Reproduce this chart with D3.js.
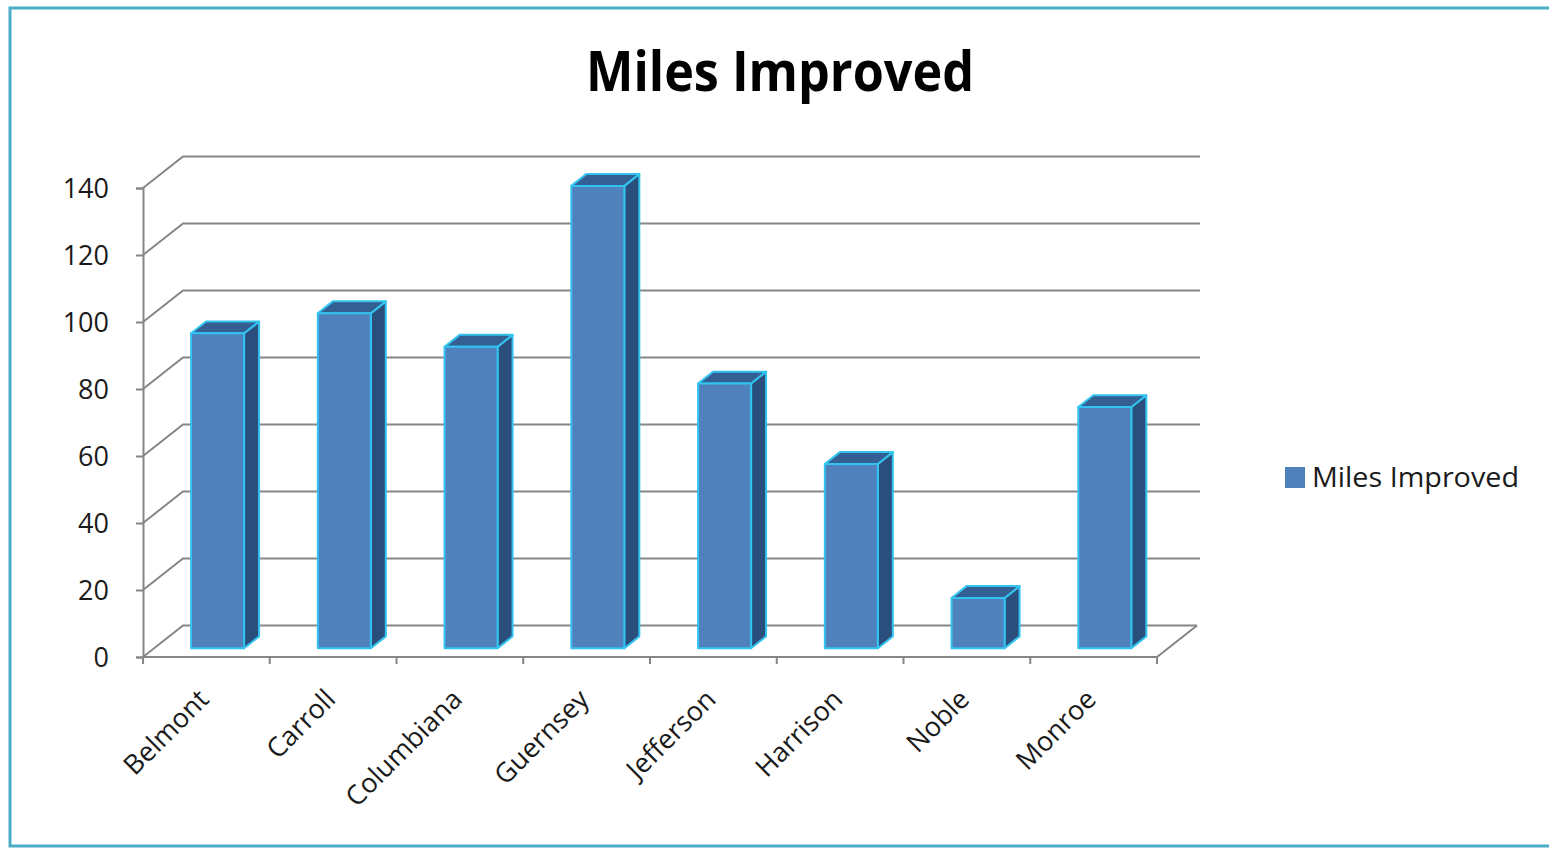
<!DOCTYPE html>
<html>
<head>
<meta charset="utf-8">
<script src="https://cdn.jsdelivr.net/npm/d3@7"></script>
<style>
  body { margin: 0; background: #fff; }
  text { font-family: "Open Sans", "Noto Sans", sans-serif; }
</style>
</head>
<body>
<svg id="chart" width="1549" height="848"></svg>
<script>
const categories = ['Belmont', 'Carroll', 'Columbiana', 'Guernsey', 'Jefferson', 'Harrison', 'Noble', 'Monroe'];
const milesImproved = [94, 100, 90, 138, 79, 55, 15, 72];
const yTicks = [0, 20, 40, 60, 80, 100, 120, 140];
const seriesName = 'Miles Improved';

const DX = 40, DY = 31.5;          // depth offset of the back wall
const d0 = 0.28, d1 = 0.655;       // bar depth range (0 = front, 1 = back)

const svg = d3.select('#chart');

// frame (right edge runs off the picture)
svg.append('rect')
   .attr('x', 10).attr('y', 8)
   .attr('width', 1550).attr('height', 838)
   .attr('fill', '#fff')
   .attr('stroke', '#4bacc6')
   .attr('stroke-width', 3);

const xScale = d3.scaleBand()
                 .domain(categories)
                 .range([143, 1157]);

const yScale = d3.scaleLinear()
                 .domain([0, 140])
                 .range([657, 188]);

const proj = (x, y, d) => [x + d * DX, y - d * DY];
const [xL, xR] = xScale.range();

// back wall gridlines and side wall lines
const grid = svg.append('g')
                .attr('fill', 'none')
                .attr('stroke', '#868686')
                .attr('stroke-width', 2);

yTicks.forEach(v => {
  const y = yScale(v);
  const right = v === 0 ? xR : xR + 3;
  grid.append('path')
      .attr('d', d3.line()([[xL, y], proj(xL, y, 1), proj(right, y, 1)]));
});

// floor front edge and right edge
grid.append('path')
    .attr('d', d3.line()([[xL, yScale(0)], [xR, yScale(0)], proj(xR, yScale(0), 1)]));

// y axis
const yAxis = d3.axisLeft(yScale)
                .tickValues(yTicks)
                .tickSize(7)
                .tickPadding(27);

const gy = svg.append('g')
              .attr('transform', `translate(${xL},0)`)
              .call(yAxis);
gy.select('.domain').attr('stroke', '#868686').attr('stroke-width', 2);
gy.selectAll('.tick line').attr('stroke', '#868686').attr('stroke-width', 2);
gy.selectAll('.tick text')
  .attr('font-size', 27)
  .attr('dy', '0.34em')
  .attr('fill', '#1a1a1a')
  .style('font-family', '"Open Sans", sans-serif');

// category ticks
const bounds = categories.map(c => xScale(c)).concat([xR]);
svg.append('g')
   .selectAll('line')
   .data(bounds)
   .join('line')
   .attr('x1', d => d).attr('x2', d => d)
   .attr('y1', yScale(0)).attr('y2', yScale(0) + 7)
   .attr('stroke', '#868686')
   .attr('stroke-width', 2);

// category labels
svg.append('g')
   .selectAll('text')
   .data(categories)
   .join('text')
   .attr('transform', d => `translate(${xScale(d) + xScale.bandwidth() / 2 + 4},${yScale(0) + 44}) rotate(-45)`)
   .attr('text-anchor', 'end')
   .attr('font-size', 27)
   .attr('fill', '#1a1a1a')
   .text(d => d);

// bars
const barW = 53;
const data = categories.map((c, i) => ({ c, v: milesImproved[i] }));
const bars = svg.append('g')
                .selectAll('g')
                .data(data)
                .join('g')
                .attr('stroke', '#33c3f0')
                .attr('stroke-width', 2)
                .attr('stroke-linejoin', 'round');

const x0 = d => xScale(d.c) + xScale.bandwidth() / 2 - barW / 2;
const x1 = d => x0(d) + barW;

// side face
bars.append('path')
    .attr('fill', '#2b4f7c')
    .attr('d', d => d3.line()([
      proj(x1(d), yScale(d.v), d0), proj(x1(d), yScale(0), d0),
      proj(x1(d), yScale(0), d1), proj(x1(d), yScale(d.v), d1)]) + 'Z');

// top face
bars.append('path')
    .attr('fill', '#335f92')
    .attr('d', d => d3.line()([
      proj(x0(d), yScale(d.v), d0), proj(x1(d), yScale(d.v), d0),
      proj(x1(d), yScale(d.v), d1), proj(x0(d), yScale(d.v), d1)]) + 'Z');

// front face
bars.append('path')
    .attr('fill', '#4f81bd')
    .attr('d', d => d3.line()([
      proj(x0(d), yScale(d.v), d0), proj(x1(d), yScale(d.v), d0),
      proj(x1(d), yScale(0), d0), proj(x0(d), yScale(0), d0)]) + 'Z');

// title
svg.append('text')
   .attr('x', 780)
   .attr('y', 91)
   .attr('text-anchor', 'middle')
   .attr('font-size', 56)
   .attr('font-weight', 'bold')
   .attr('textLength', 388)
   .attr('lengthAdjust', 'spacingAndGlyphs')
   .attr('fill', '#000')
   .text(seriesName);

// legend
const legend = svg.append('g').attr('transform', 'translate(1285,467)');
legend.append('rect')
      .attr('width', 20).attr('height', 21)
      .attr('fill', '#4f81bd');
legend.append('text')
      .attr('x', 27).attr('y', 20)
      .attr('font-size', 28)
      .attr('textLength', 207)
      .attr('lengthAdjust', 'spacingAndGlyphs')
      .attr('fill', '#1a1a1a')
      .text(seriesName);
</script>
</body>
</html>
